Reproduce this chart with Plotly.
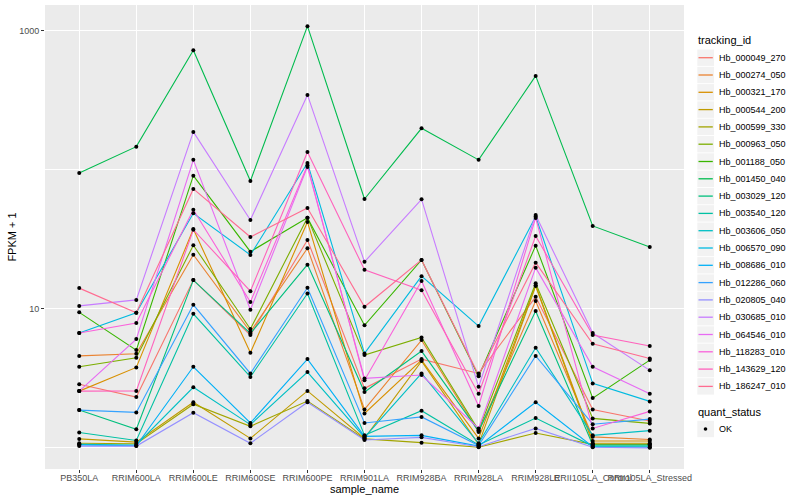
import plotly.graph_objects as go

samples = ["PB350LA", "RRIM600LA", "RRIM600LE", "RRIM600SE", "RRIM600PE", "RRIM901LA",
           "RRIM928BA", "RRIM928LA", "RRIM928LE", "RRII105LA_Control", "RRII105LA_Stressed"]

tracking_ids = ["Hb_000049_270", "Hb_000274_050", "Hb_000321_170", "Hb_000544_200",
                "Hb_000599_330", "Hb_000963_050", "Hb_001188_050", "Hb_001450_040",
                "Hb_003029_120", "Hb_003540_120", "Hb_003606_050", "Hb_006570_090",
                "Hb_008686_010", "Hb_012286_060", "Hb_020805_040", "Hb_030685_010",
                "Hb_064546_010", "Hb_118283_010", "Hb_143629_120", "Hb_186247_010"]

colors = ["#F8766D", "#EA8331", "#D89000", "#C09B00", "#A3A500", "#7CAE00", "#39B600",
          "#00BB4E", "#00BF7D", "#00C1A3", "#00BFC4", "#00BAE0", "#00B0F6", "#35A2FF",
          "#9590FF", "#C77CFF", "#E76BF3", "#FA62DB", "#FF62BC", "#FF6C91"]

# FPKM + 1 values, one list per tracking_id (order follows `samples`)
hb_000049_270 = [2.87, 2.32, 16.1, 6.48, 31.3, 2.68, 4.35, 3.43, 12.2, 1.89, 1.56]
hb_000274_050 = [4.59, 4.75, 24.5, 6.84, 27.3, 1.89, 5.96, 1.30, 11.4, 1.20, 1.15]
hb_000321_170 = [2.56, 3.79, 37.5, 4.83, 42.2, 1.77, 4.28, 1.17, 14.8, 1.12, 1.12]
hb_000544_200 = [1.16, 1.10, 2.13, 1.17, 2.57, 1.17, 4.21, 1.06, 14.6, 1.08, 1.08]
hb_000599_330 = [1.08, 1.07, 2.06, 1.43, 2.17, 1.16, 1.09, 1.01, 1.28, 1.06, 1.06]
hb_000963_050 = [3.83, 4.45, 28.7, 7.16, 45.3, 4.65, 6.23, 1.34, 15.3, 1.63, 1.50]
hb_001188_050 = [9.44, 5.05, 90.8, 25.8, 45.3, 7.61, 22.5, 3.28, 28.5, 2.28, 4.28]
hb_001450_040 = [95.0, 146.9, 726, 83.2, 1081, 61.7, 199, 118, 474, 39.5, 27.9]
hb_003029_120 = [1.87, 1.36, 16.1, 6.66, 20.8, 2.52, 4.97, 1.32, 9.64, 1.05, 1.05]
hb_003540_120 = [1.29, 1.13, 9.22, 3.24, 12.9, 1.23, 1.85, 1.05, 1.64, 1.03, 1.03]
hb_003606_050 = [1.06, 1.05, 2.73, 1.47, 3.51, 1.19, 3.43, 1.08, 5.25, 1.23, 1.33]
hb_006570_090 = [6.70, 9.38, 48.7, 24.4, 112, 4.78, 17.2, 7.52, 46.2, 2.91, 2.16]
hb_008686_010 = [1.05, 1.035, 3.83, 1.51, 4.35, 1.21, 1.23, 1.03, 2.13, 1.02, 1.01]
hb_012286_060 = [1.87, 1.80, 10.7, 3.43, 14.2, 1.51, 1.67, 1.04, 4.59, 1.48, 1.61]
hb_020805_040 = [1.03, 1.03, 1.79, 1.08, 2.13, 1.14, 1.19, 1.02, 1.38, 1.01, 1.00]
hb_030685_010 = [10.5, 11.6, 187.5, 43.6, 346, 21.8, 61.4, 2.75, 47.4, 6.70, 3.61]
hb_064546_010 = [2.56, 6.06, 118, 9.85, 105, 3.16, 3.34, 1.38, 19.8, 3.83, 2.45]
hb_118283_010 = [6.70, 7.90, 51.7, 11.2, 108, 3.07, 15.85, 2.00, 45.1, 1.38, 1.83]
hb_143629_120 = [2.56, 2.57, 37.1, 13.4, 134.5, 19.1, 13.6, 2.45, 33.4, 6.48, 5.40]
hb_186247_010 = [14.1, 9.38, 72.9, 32.9, 53.2, 10.35, 22.5, 3.34, 21.5, 5.61, 4.40]

series = [hb_000049_270, hb_000274_050, hb_000321_170, hb_000544_200, hb_000599_330,
          hb_000963_050, hb_001188_050, hb_001450_040, hb_003029_120, hb_003540_120,
          hb_003606_050, hb_006570_090, hb_008686_010, hb_012286_060, hb_020805_040,
          hb_030685_010, hb_064546_010, hb_118283_010, hb_143629_120, hb_186247_010]

y_ticks = [10, 1000]
y_minor = [1, 100]

FONT = "Liberation Sans, Arial, sans-serif"
W, H = 800, 500
ML, MR, MT, MB = 45, 116, 5, 31
PW, PH = W - ML - MR, H - MT - MB


def px_x(px):
    return (px - ML) / PW


def px_y(py):
    return (H - MB - py) / PH


fig = go.Figure()

for tid, vals, col in zip(tracking_ids, series, colors):
    fig.add_trace(go.Scatter(x=samples, y=vals, mode="lines", name=tid,
                             line=dict(color=col, width=1.1), showlegend=False))

for tid, vals in zip(tracking_ids, series):
    fig.add_trace(go.Scatter(x=samples, y=vals, mode="markers", name="OK",
                             marker=dict(color="black", size=4),
                             showlegend=False, hoverinfo="skip"))

shapes = []
annotations = []

# legend: tracking_id
annotations.append(dict(text="tracking_id", x=px_x(696), y=px_y(40.5), xref="paper", yref="paper",
                        xanchor="left", yanchor="middle", showarrow=False,
                        font=dict(family=FONT, size=11, color="black")))
for i, (tid, col) in enumerate(zip(tracking_ids, colors)):
    cy = 57.7 + 17.3 * i
    shapes.append(dict(type="rect", xref="paper", yref="paper",
                       x0=px_x(697.3), x1=px_x(714), y0=px_y(cy - 8.2), y1=px_y(cy + 8.2),
                       fillcolor="#F2F2F2", line=dict(width=0), layer="below"))
    shapes.append(dict(type="line", xref="paper", yref="paper",
                       x0=px_x(698.5), x1=px_x(712.8), y0=px_y(cy), y1=px_y(cy),
                       line=dict(color=col, width=1.3)))
    annotations.append(dict(text=tid, x=px_x(716.5), y=px_y(cy), xref="paper", yref="paper",
                            xanchor="left", yanchor="middle", showarrow=False,
                            font=dict(family=FONT, size=9, color="black")))

# legend: quant_status
annotations.append(dict(text="quant_status", x=px_x(696), y=px_y(412), xref="paper", yref="paper",
                        xanchor="left", yanchor="middle", showarrow=False,
                        font=dict(family=FONT, size=11, color="black")))
shapes.append(dict(type="rect", xref="paper", yref="paper",
                   x0=px_x(697.3), x1=px_x(714), y0=px_y(429 - 8.2), y1=px_y(429 + 8.2),
                   fillcolor="#F2F2F2", line=dict(width=0), layer="below"))
shapes.append(dict(type="circle", xref="paper", yref="paper",
                   x0=px_x(703.7), x1=px_x(707.3), y0=px_y(430.8), y1=px_y(427.2),
                   fillcolor="black", line=dict(width=0)))
annotations.append(dict(text="OK", x=px_x(716.5), y=px_y(429), xref="paper", yref="paper",
                        xanchor="left", yanchor="middle", showarrow=False,
                        font=dict(family=FONT, size=9, color="black")))

fig.update_layout(
    width=W, height=H,
    margin=dict(l=ML, r=MR, t=MT, b=MB, pad=0),
    paper_bgcolor="white",
    plot_bgcolor="#EBEBEB",
    font=dict(family=FONT, size=9, color="#4D4D4D"),
    shapes=shapes,
    annotations=annotations,
    showlegend=False,
    xaxis=dict(
        type="category", categoryorder="array", categoryarray=samples,
        range=[-0.6, len(samples) - 0.4],
        showgrid=True, gridcolor="white", gridwidth=1.1,
        ticks="outside", ticklen=3, tickcolor="#333333", tickwidth=1,
        tickangle=0, showline=False, zeroline=False,
        ticklabelstandoff=-3,
        tickfont=dict(family=FONT, size=9, color="#4D4D4D"),
        title=dict(text="sample_name", standoff=0,
                   font=dict(family=FONT, size=11, color="black")),
        automargin=False,
    ),
    yaxis=dict(
        type="log", range=[-0.152, 3.186],
        tickvals=y_ticks, ticktext=[str(v) for v in y_ticks],
        showgrid=True, gridcolor="white", gridwidth=1.1,
        minor=dict(tickvals=y_minor, showgrid=True, gridcolor="white", gridwidth=0.55, ticklen=0),
        ticks="outside", ticklen=3, tickcolor="#333333", tickwidth=1,
        showline=False, zeroline=False,
        tickfont=dict(family=FONT, size=9, color="#4D4D4D"),
        title=dict(text="FPKM + 1", standoff=0,
                   font=dict(family=FONT, size=11, color="black")),
        automargin=False,
    ),
)

fig.write_html("out.html", config={"displayModeBar": False},
               post_script="document.body.style.margin='0';document.body.style.overflow='hidden';")
